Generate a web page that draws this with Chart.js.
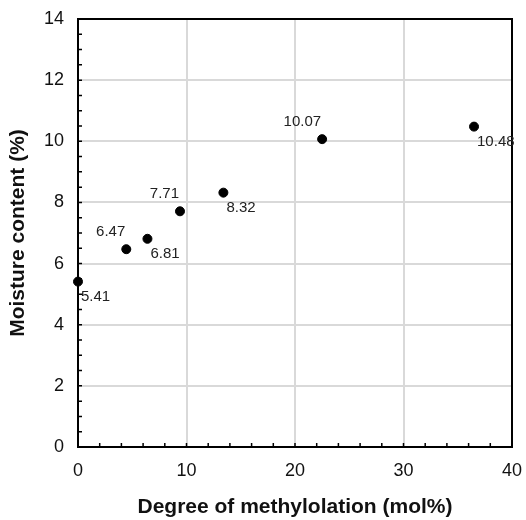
<!DOCTYPE html>
<html>
<head>
<meta charset="utf-8">
<script src="https://cdn.jsdelivr.net/npm/chart.js@4"></script>
<style>
    html, body { margin: 0; padding: 0; background: #fff; }
    #wrap { width: 526px; height: 520px; }
</style>
</head>
<body>
<div id="wrap"><canvas id="graficaHumedad"></canvas></div>
<script>
// valores
const methylolation = [0, 4.45, 6.4, 9.4, 13.4, 22.5, 36.5];
const moisture = [5.41, 6.47, 6.81, 7.71, 8.32, 10.07, 10.48];
const pointLabels = ["5.41", "6.47", "6.81", "7.71", "8.32", "10.07", "10.48"];
const labelSide = ["below", "above", "below", "above", "below", "above", "below"];

const xTicks = [0, 10, 20, 30, 40];
const yTicks = [0, 2, 4, 6, 8, 10, 12, 14];

const FONT = "'Liberation Sans', Arial, sans-serif";

// marcas de graduacion hacia adentro + marco superior/derecho + etiquetas
const extras = {
    id: "extras",
    afterDatasetsDraw(chart) {
        const ctx = chart.ctx;
        const area = chart.chartArea;
        const xs = chart.scales.x;
        const ys = chart.scales.y;

        ctx.save();
        ctx.strokeStyle = "#000";
        ctx.lineWidth = 1.5;
        ctx.beginPath();
        xs.ticks.forEach((t) => {
            const px = xs.getPixelForValue(t.value);
            ctx.moveTo(px, area.bottom);
            ctx.lineTo(px, area.bottom - 4);
        });
        ys.ticks.forEach((t) => {
            const py = ys.getPixelForValue(t.value);
            ctx.moveTo(area.left, py);
            ctx.lineTo(area.left + 4, py);
        });
        ctx.stroke();

        ctx.lineWidth = 2;
        ctx.strokeRect(area.left, area.top, area.right - area.left, area.bottom - area.top);

        ctx.fillStyle = "#222";
        ctx.font = "15px " + FONT;
        ctx.textBaseline = "middle";
        const meta = chart.getDatasetMeta(0);
        meta.data.forEach((pt, i) => {
            if (labelSide[i] === "above") {
                ctx.textAlign = "right";
                ctx.fillText(pointLabels[i], pt.x - 1, pt.y - 17);
            } else {
                ctx.textAlign = "left";
                ctx.fillText(pointLabels[i], pt.x + 3, pt.y + 15);
            }
        });
        ctx.restore();
    },
};

const data = {
    datasets: [
        {
            label: "Moisture content",
            data: methylolation.map((x, i) => ({ x: x, y: moisture[i] })),
            backgroundColor: "#000",
            borderColor: "#000",
            pointRadius: 4.5,
            clip: false,
        },
    ],
};

const config = {
    type: "scatter",
    data: data,
    options: {
        responsive: true,
        maintainAspectRatio: false,
        animation: false,
        layout: {
            padding: { top: 19, right: 14, left: 0, bottom: 0 },
        },
        plugins: {
            legend: { display: false },
            tooltip: { enabled: false },
        },
        scales: {
            x: {
                type: "linear",
                min: 0,
                max: 40,
                afterFit: (scale) => {
                    scale.height = 73;
                    scale.paddingLeft = 0;
                    scale.paddingRight = 0;
                },
                ticks: {
                    stepSize: 2,
                    autoSkip: false,
                    maxRotation: 0,
                    padding: 13,
                    color: "#111",
                    font: { family: FONT, size: 18 },
                    callback: (v) => xTicks.includes(v) ? String(v) : "",
                },
                grid: {
                    drawTicks: false,
                    color: (c) => (c.tick && c.tick.value % 10 === 0 && c.tick.value > 0 && c.tick.value < 40) ? "#d9d9d9" : "transparent",
                    lineWidth: 2,
                },
                border: { display: true, color: "#000", width: 2 },
                title: {
                    display: true,
                    text: "Degree of methylolation (mol%)",
                    color: "#111",
                    font: { family: FONT, size: 21, weight: "bold" },
                    padding: { top: 0, bottom: 0 },
                },
            },
            y: {
                min: 0,
                max: 14,
                afterFit: (scale) => {
                    scale.width = 78;
                    scale.paddingTop = 0;
                    scale.paddingBottom = 0;
                },
                ticks: {
                    stepSize: 0.5,
                    autoSkip: false,
                    padding: 14,
                    color: "#111",
                    font: { family: FONT, size: 18 },
                    callback: (v) => yTicks.includes(v) ? String(v) : "",
                },
                grid: {
                    drawTicks: false,
                    color: (c) => (c.tick && c.tick.value % 2 === 0 && c.tick.value > 0 && c.tick.value < 14) ? "#d9d9d9" : "transparent",
                    lineWidth: 2,
                },
                border: { display: true, color: "#000", width: 2 },
                title: {
                    display: true,
                    text: "Moisture content (%)",
                    color: "#111",
                    font: { family: FONT, size: 21, weight: "bold" },
                    padding: { top: 6, bottom: 0 },
                },
            },
        },
    },
    plugins: [extras],
};

new Chart(document.getElementById("graficaHumedad"), config);
</script>
</body>
</html>
